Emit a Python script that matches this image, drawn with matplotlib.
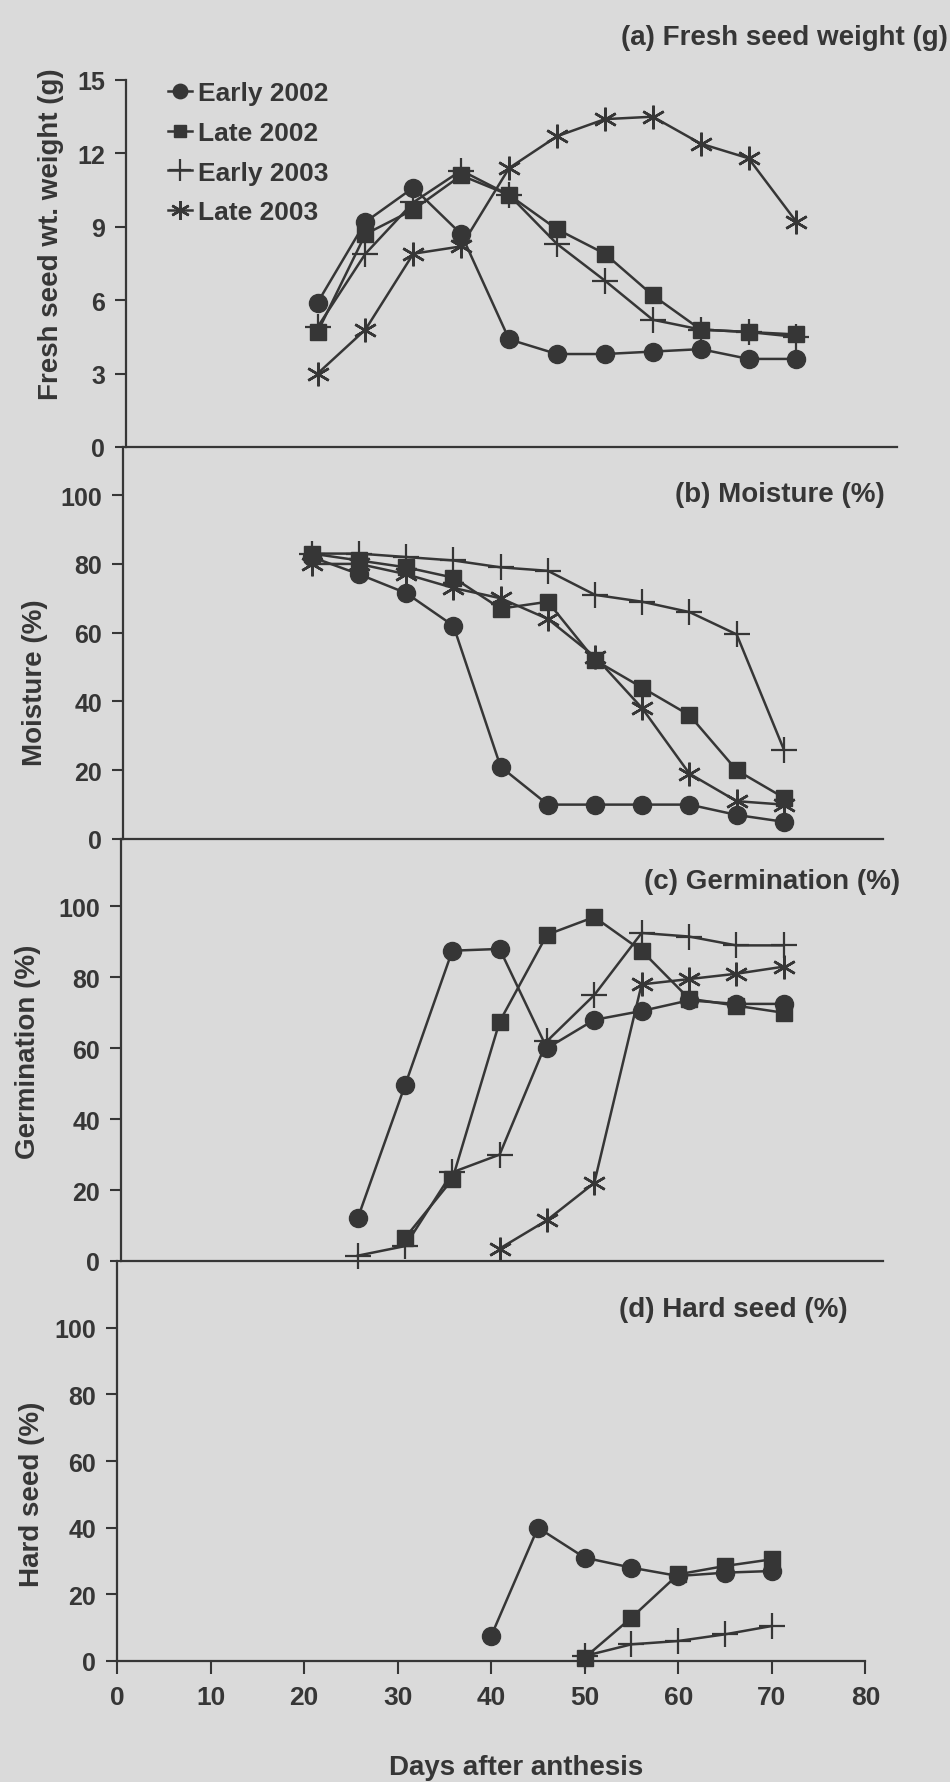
import matplotlib
matplotlib.use("Agg")
import matplotlib.pyplot as plt

plt.rcParams['font.family'] = ['Liberation Sans', 'DejaVu Sans']
plt.rcParams['font.weight'] = 'bold'

# Data
days = [20, 25, 30, 35, 40, 45, 50, 55, 60, 65, 70]
labels = ["Early 2002", "Late 2002", "Early 2003", "Late 2003"]

fresh_early02 = [5.9, 9.2, 10.6, 8.7, 4.4, 3.8, 3.8, 3.9, 4.0, 3.6, 3.6]
fresh_late02 = [4.7, 8.7, 9.7, 11.1, 10.3, 8.9, 7.9, 6.2, 4.8, 4.7, 4.6]
fresh_early03 = [4.9, 7.9, 10.0, 11.3, 10.3, 8.3, 6.8, 5.2, 4.8, 4.7, 4.5]
fresh_late03 = [3.0, 4.8, 7.9, 8.2, 11.4, 12.7, 13.4, 13.5, 12.4, 11.8, 9.2]

moist_early02 = [82, 77, 71.5, 62, 21, 10, 10, 10, 10, 7, 5]
moist_late02 = [83, 81, 79, 76, 67, 69, 52, 44, 36, 20, 12]
moist_early03 = [83, 83, 82, 81, 79, 78, 71, 69, 66, 59.5, 26]
moist_late03 = [80, 80, 77, 73, 70, 64, 53, 38, 19, 11, 10]

germ_days_early02 = [25, 30, 35, 40, 45, 50, 55, 60, 65, 70]
germ_early02 = [12, 49.5, 87.5, 88, 60, 68, 70.5, 73.5, 72.5, 72.5]
germ_days_late02 = [30, 35, 40, 45, 50, 55, 60, 65, 70]
germ_late02 = [6.5, 23, 67.5, 92, 97, 87.5, 74, 72, 70]
germ_days_early03 = [25, 30, 35, 40, 45, 50, 55, 60, 65, 70]
germ_early03 = [1.5, 4.2, 25, 30, 62, 75, 92.5, 91.5, 89, 89]
germ_days_late03 = [40, 45, 50, 55, 60, 65, 70]
germ_late03 = [3.5, 11.5, 22, 78, 79.5, 81, 83]

hard_days_early02 = [40, 45, 50, 55, 60, 65, 70]
hard_early02 = [7.5, 40, 31, 28, 25.5, 26.5, 27]
hard_days_late02 = [50, 55, 60, 65, 70]
hard_late02 = [1, 13, 26, 28.5, 30.5]
hard_days_early03 = [50, 55, 60, 65, 70]
hard_early03 = [1.5, 5, 6, 8, 10.5]

ink = '#363636'
bg = '#dadada'

styles = [
    dict(marker='o', ms=13, mew=1.0),
    dict(marker='s', ms=11, mew=1.0),
    dict(marker='+', ms=19, mew=1.6),
    dict(marker=(6, 2, 0), ms=17, mew=1.8),
]

W, H = 950, 1783
fig = plt.figure(figsize=(W / 100, H / 100), dpi=100, facecolor=bg)

# panel boxes in pixels: left, top, right, bottom
boxes = [(126, 81, 897, 448), (123, 448, 883, 840),
         (121, 840, 883, 1262), (117, 1262, 870, 1662)]
ylims = [15, 114, 119, 120]
yticks = [range(0, 16, 3), range(0, 101, 20), range(0, 101, 20), range(0, 101, 20)]

axes = []
for (l, t, r, b), ytop, yt in zip(boxes, ylims, yticks):
    ax = fig.add_axes([l / W, 1 - b / H, (r - l) / W, (b - t) / H])
    ax.set_facecolor('none')
    ax.set_xlim(0, 80.5)
    ax.set_ylim(0, ytop)
    ax.set_yticks(list(yt))
    for s in ['top', 'right']:
        ax.spines[s].set_visible(False)
    for s in ['left', 'bottom']:
        ax.spines[s].set_linewidth(1.6)
        ax.spines[s].set_color(ink)
    ax.tick_params(axis='y', length=8, width=1.5, pad=7, labelsize=18,
                   colors=ink)
    ax.tick_params(axis='x', length=0, labelbottom=False)
    axes.append(ax)

ax_a, ax_b, ax_c, ax_d = axes

series_a = [fresh_early02, fresh_late02, fresh_early03, fresh_late03]
for vals, lab, st in zip(series_a, labels, styles):
    ax_a.plot(days, vals, color=ink, lw=1.8, label=lab, clip_on=False, **st)

series_b = [moist_early02, moist_late02, moist_early03, moist_late03]
for vals, st in zip(series_b, styles):
    ax_b.plot(days, vals, color=ink, lw=1.8, clip_on=False, **st)

series_c = [(germ_days_early02, germ_early02), (germ_days_late02, germ_late02),
            (germ_days_early03, germ_early03), (germ_days_late03, germ_late03)]
for (xs, vals), st in zip(series_c, styles):
    ax_c.plot(xs, vals, color=ink, lw=1.8, clip_on=False, **st)

series_d = [(hard_days_early02, hard_early02), (hard_days_late02, hard_late02),
            (hard_days_early03, hard_early03)]
for (xs, vals), st in zip(series_d, styles):
    ax_d.plot(xs, vals, color=ink, lw=1.8, clip_on=False, **st)

ax_d.set_xticks(range(0, 81, 10))
ax_d.tick_params(axis='x', length=9, width=1.5, pad=8, labelsize=19,
                 labelbottom=True, colors=ink)
ax_d.spines['bottom'].set_bounds(0, 80)

leg = ax_a.legend(loc='upper left', bbox_to_anchor=(168 / W, 1 - 82 / H),
                  bbox_transform=fig.transFigure, frameon=False, fontsize=19,
                  handlelength=0.9, handletextpad=0.25, labelspacing=0.6,
                  borderpad=0, borderaxespad=0, markerscale=0.8)
for txt in leg.get_texts():
    txt.set_color(ink)

titles = [("(a) Fresh seed weight (g)", 948, 38),
          ("(b) Moisture (%)", 885, 495),
          ("(c) Germination (%)", 900, 882),
          ("(d) Hard seed (%)", 848, 1310)]
for txt, x, y in titles:
    fig.text(x / W, 1 - y / H, txt, ha='right', va='center', fontsize=20,
             fontweight='bold', color=ink)

ylabels = [("Fresh seed wt. weight (g)", 51, 234),
           ("Moisture (%)", 35, 683),
           ("Germination (%)", 28, 1052),
           ("Hard seed (%)", 32, 1494)]
for txt, x, y in ylabels:
    fig.text(x / W, 1 - y / H, txt, ha='center', va='center', rotation=90,
             fontsize=20, fontweight='bold', color=ink)

fig.text(516 / W, 1 - 1768 / H, "Days after anthesis", ha='center',
         va='center', fontsize=20, fontweight='bold', color=ink)

fig.savefig("out.png", dpi=100, facecolor=bg)
